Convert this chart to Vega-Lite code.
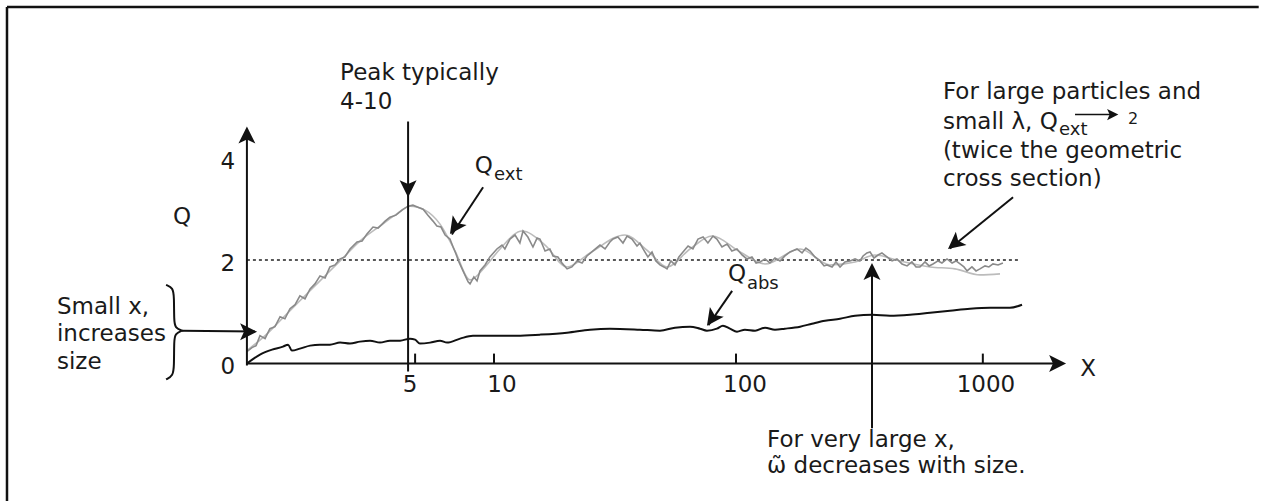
{
  "$schema": "https://vega.github.io/schema/vega-lite/v6.json",
  "width": 1262,
  "height": 503,
  "autosize": {"type": "fit", "contains": "padding"},
  "padding": 0,
  "background": "white",
  "config": {"view": {"stroke": null}, "text": {"font": "DejaVu Sans", "color": "#1a1a1a", "baseline": "middle"}},
  "datasets": {
    "qext": [
      {"x":-0.021,"q":0.231},{"x":0,"q":0.308},{"x":0.017,"q":0.346},{"x":0.033,"q":0.538},{"x":0.054,"q":0.481},{"x":0.074,"q":0.673},{"x":0.095,"q":0.712},{"x":0.116,"q":0.904},{"x":0.136,"q":0.865},{"x":0.157,"q":1.058},{"x":0.178,"q":1.135},{"x":0.198,"q":1.308},{"x":0.219,"q":1.25},{"x":0.24,"q":1.442},{"x":0.26,"q":1.538},{"x":0.281,"q":1.692},{"x":0.302,"q":1.654},{"x":0.322,"q":1.865},{"x":0.343,"q":1.904},{"x":0.364,"q":2.019},{"x":0.384,"q":2.058},{"x":0.405,"q":2.212},{"x":0.434,"q":2.346},{"x":0.455,"q":2.365},{"x":0.475,"q":2.5},{"x":0.5,"q":2.635},{"x":0.521,"q":2.615},{"x":0.55,"q":2.75},{"x":0.57,"q":2.827},{"x":0.595,"q":2.865},{"x":0.62,"q":2.962},{"x":0.645,"q":3.038},{"x":0.665,"q":3.058},{"x":0.686,"q":3.019},{"x":0.707,"q":2.981},{"x":0.727,"q":2.865},{"x":0.748,"q":2.75},{"x":0.764,"q":2.654},{"x":0.781,"q":2.635},{"x":0.798,"q":2.481},{"x":0.818,"q":2.404},{"x":0.831,"q":2.25},{"x":0.843,"q":2.115},{"x":0.855,"q":1.962},{"x":0.872,"q":1.788},{"x":0.893,"q":1.577},{"x":0.901,"q":1.538},{"x":0.917,"q":1.673},{"x":0.93,"q":1.596},{"x":0.942,"q":1.788},{"x":0.963,"q":1.904},{"x":0.983,"q":2.058},{"x":1.012,"q":2.212},{"x":1.033,"q":2.288},{"x":1.045,"q":2.212},{"x":1.066,"q":2.404},{"x":1.087,"q":2.481},{"x":1.107,"q":2.327},{"x":1.12,"q":2.558},{"x":1.14,"q":2.442},{"x":1.161,"q":2.25},{"x":1.178,"q":2.423},{"x":1.19,"q":2.404},{"x":1.211,"q":2.173},{"x":1.231,"q":2.212},{"x":1.244,"q":2.077},{"x":1.264,"q":2.058},{"x":1.281,"q":1.942},{"x":1.302,"q":1.827},{"x":1.322,"q":1.865},{"x":1.343,"q":1.981},{"x":1.364,"q":1.942},{"x":1.384,"q":2.077},{"x":1.409,"q":2.173},{"x":1.438,"q":2.288},{"x":1.459,"q":2.212},{"x":1.479,"q":2.346},{"x":1.492,"q":2.404},{"x":1.512,"q":2.442},{"x":1.533,"q":2.327},{"x":1.55,"q":2.462},{"x":1.57,"q":2.404},{"x":1.591,"q":2.269},{"x":1.603,"q":2.327},{"x":1.616,"q":2.212},{"x":1.636,"q":2.058},{"x":1.653,"q":2.154},{"x":1.669,"q":1.981},{"x":1.686,"q":1.904},{"x":1.702,"q":1.865},{"x":1.715,"q":1.827},{"x":1.731,"q":1.981},{"x":1.748,"q":1.904},{"x":1.764,"q":2.058},{"x":1.781,"q":2.154},{"x":1.802,"q":2.269},{"x":1.822,"q":2.212},{"x":1.843,"q":2.404},{"x":1.864,"q":2.442},{"x":1.884,"q":2.327},{"x":1.905,"q":2.462},{"x":1.921,"q":2.404},{"x":1.942,"q":2.25},{"x":1.963,"q":2.308},{"x":1.983,"q":2.173},{"x":2.004,"q":2.212},{"x":2.025,"q":2.096},{"x":2.045,"q":2.019},{"x":2.066,"q":2.058},{"x":2.083,"q":1.942},{"x":2.099,"q":1.962},{"x":2.12,"q":2.019},{"x":2.14,"q":1.942},{"x":2.161,"q":2.038},{"x":2.182,"q":1.981},{"x":2.202,"q":2.077},{"x":2.223,"q":2.154},{"x":2.252,"q":2.212},{"x":2.273,"q":2.135},{"x":2.289,"q":2.231},{"x":2.306,"q":2.173},{"x":2.326,"q":2.058},{"x":2.347,"q":1.981},{"x":2.364,"q":1.885},{"x":2.376,"q":1.904},{"x":2.397,"q":1.865},{"x":2.413,"q":1.962},{"x":2.43,"q":1.865},{"x":2.45,"q":1.962},{"x":2.471,"q":1.981},{"x":2.492,"q":2.019},{"x":2.512,"q":1.981},{"x":2.525,"q":2.077},{"x":2.541,"q":2.135},{"x":2.554,"q":2.154},{"x":2.57,"q":2.038},{"x":2.587,"q":2.096},{"x":2.603,"q":2.135},{"x":2.624,"q":2.058},{"x":2.645,"q":1.981},{"x":2.665,"q":2.019},{"x":2.686,"q":1.923},{"x":2.707,"q":1.885},{"x":2.727,"q":1.962},{"x":2.744,"q":1.865},{"x":2.76,"q":1.865},{"x":2.781,"q":1.962},{"x":2.798,"q":1.885},{"x":2.814,"q":1.923},{"x":2.835,"q":1.981},{"x":2.851,"q":1.942},{"x":2.872,"q":2.019},{"x":2.893,"q":1.942},{"x":2.909,"q":1.981},{"x":2.926,"q":1.923},{"x":2.942,"q":1.865},{"x":2.955,"q":1.788},{"x":2.975,"q":1.865},{"x":2.992,"q":1.788},{"x":3.008,"q":1.827},{"x":3.029,"q":1.885},{"x":3.045,"q":1.865},{"x":3.062,"q":1.923},{"x":3.083,"q":1.904},{"x":3.103,"q":1.942}
    ],
    "qextSmooth": [
      {"x":-0.021,"q":0.25},{"x":0.054,"q":0.538},{"x":0.116,"q":0.827},{"x":0.198,"q":1.212},{"x":0.281,"q":1.596},{"x":0.364,"q":1.981},{"x":0.446,"q":2.365},{"x":0.529,"q":2.654},{"x":0.591,"q":2.865},{"x":0.653,"q":3.038},{"x":0.715,"q":2.962},{"x":0.777,"q":2.692},{"x":0.839,"q":2.173},{"x":0.901,"q":1.615},{"x":0.963,"q":1.865},{"x":1.025,"q":2.212},{"x":1.116,"q":2.558},{"x":1.211,"q":2.288},{"x":1.302,"q":1.865},{"x":1.397,"q":2.135},{"x":1.541,"q":2.481},{"x":1.636,"q":2.173},{"x":1.715,"q":1.865},{"x":1.81,"q":2.212},{"x":1.901,"q":2.462},{"x":2.017,"q":2.154},{"x":2.12,"q":1.923},{"x":2.265,"q":2.212},{"x":2.388,"q":1.904},{"x":2.492,"q":1.962},{"x":2.574,"q":2.096},{"x":2.678,"q":1.981},{"x":2.802,"q":1.865},{"x":2.905,"q":1.827},{"x":3.008,"q":1.712},{"x":3.091,"q":1.731}
    ],
    "qabs": [
      {"x":-0.021,"q":0},{"x":0.033,"q":0.173},{"x":0.083,"q":0.269},{"x":0.128,"q":0.327},{"x":0.149,"q":0.365},{"x":0.165,"q":0.25},{"x":0.198,"q":0.288},{"x":0.24,"q":0.346},{"x":0.281,"q":0.365},{"x":0.322,"q":0.365},{"x":0.364,"q":0.404},{"x":0.405,"q":0.385},{"x":0.446,"q":0.423},{"x":0.488,"q":0.442},{"x":0.529,"q":0.404},{"x":0.57,"q":0.442},{"x":0.612,"q":0.442},{"x":0.653,"q":0.481},{"x":0.674,"q":0.462},{"x":0.694,"q":0.385},{"x":0.736,"q":0.404},{"x":0.777,"q":0.442},{"x":0.806,"q":0.404},{"x":0.86,"q":0.481},{"x":0.913,"q":0.538},{"x":0.983,"q":0.538},{"x":1.095,"q":0.538},{"x":1.19,"q":0.558},{"x":1.302,"q":0.596},{"x":1.397,"q":0.654},{"x":1.479,"q":0.673},{"x":1.603,"q":0.654},{"x":1.686,"q":0.635},{"x":1.748,"q":0.692},{"x":1.81,"q":0.712},{"x":1.851,"q":0.673},{"x":1.88,"q":0.635},{"x":1.921,"q":0.673},{"x":1.946,"q":0.731},{"x":1.975,"q":0.673},{"x":2.004,"q":0.615},{"x":2.037,"q":0.654},{"x":2.079,"q":0.635},{"x":2.12,"q":0.692},{"x":2.161,"q":0.654},{"x":2.202,"q":0.673},{"x":2.265,"q":0.712},{"x":2.314,"q":0.769},{"x":2.368,"q":0.827},{"x":2.43,"q":0.865},{"x":2.492,"q":0.923},{"x":2.562,"q":0.942},{"x":2.636,"q":0.923},{"x":2.719,"q":0.942},{"x":2.802,"q":0.981},{"x":2.884,"q":1.019},{"x":2.967,"q":1.058},{"x":3.05,"q":1.077},{"x":3.132,"q":1.077},{"x":3.182,"q":1.135}
    ],
    "brace": [
      {"i":1,"x":-0.355,"q":1.519},{"i":2,"x":-0.326,"q":1.462},{"i":3,"x":-0.322,"q":1.288},{"i":4,"x":-0.322,"q":0.827},{"i":5,"x":-0.318,"q":0.692},{"i":6,"x":-0.289,"q":0.635},{"i":7,"x":-0.289,"q":0.635},{"i":8,"x":-0.289,"q":0.635},{"i":9,"x":-0.318,"q":0.577},{"i":10,"x":-0.322,"q":0.442},{"i":11,"x":-0.322,"q":-0.058},{"i":12,"x":-0.326,"q":-0.231},{"i":13,"x":-0.355,"q":-0.308}
    ],
    "segs": [
      {"kind":"frame","x":-1.0124,"q":6.885,"x2":4.16,"q2":6.885},
      {"kind":"frame","x":-1.0124,"q":6.885,"x2":-1.0124,"q2":-2.654},
      {"kind":"line","x":-0.021,"q":-0.038,"x2":-0.021,"q2":4.519},
      {"kind":"line","x":-0.021,"q":0,"x2":3.339,"q2":0},
      {"kind":"line","x":0.645,"q":4.673,"x2":0.645,"q2":-0.154},
      {"kind":"line","x":2.562,"q":-1.25,"x2":2.562,"q2":1.9},
      {"kind":"line","x":0.955,"q":3.404,"x2":0.826,"q2":2.49},
      {"kind":"line","x":1.984,"q":1.404,"x2":1.886,"q2":0.74},
      {"kind":"line","x":3.145,"q":3.212,"x2":2.884,"q2":2.22},
      {"kind":"line","x":-0.289,"q":0.635,"x2":0.012,"q2":0.617},
      {"kind":"thin","x":3.401,"q":4.808,"x2":3.555,"q2":4.808},
      {"kind":"tick","x":0.674,"q":0,"x2":0.674,"q2":0.192},
      {"kind":"tick","x":1.0,"q":0,"x2":1.0,"q2":0.192},
      {"kind":"tick","x":2.0,"q":0,"x2":2.0,"q2":0.192},
      {"kind":"tick","x":3.02,"q":0,"x2":3.02,"q2":0.192},
      {"kind":"dots","x":-0.021,"q":2,"x2":3.174,"q2":2}
    ],
    "heads": [
      {"kind":"big","x":-0.021,"q":4.577,"dir":0},
      {"kind":"big","x":3.364,"q":0,"dir":90},
      {"kind":"big","x":0.645,"q":3.212,"dir":180},
      {"kind":"big","x":0.818,"q":2.5,"dir":215},
      {"kind":"big","x":1.88,"q":0.731,"dir":215.5},
      {"kind":"big","x":2.876,"q":2.212,"dir":231},
      {"kind":"big","x":2.562,"q":1.942,"dir":0},
      {"kind":"big","x":0.021,"q":0.615,"dir":90},
      {"kind":"small","x":3.58,"q":4.808,"dir":90}
    ],
    "texts": [
      {"role":"main","x":0.364,"q":5.615,"t":"Peak typically"},
      {"role":"main","x":0.364,"q":5.058,"t":"4-10"},
      {"role":"main","x":-0.806,"q":1.096,"t":"Small x,"},
      {"role":"main","x":-0.806,"q":0.577,"t":"increases"},
      {"role":"main","x":-0.806,"q":0.038,"t":"size"},
      {"role":"main","x":0.921,"q":3.808,"t":"Q"},
      {"role":"main","x":1.967,"q":1.731,"t":"Q"},
      {"role":"main","x":2.855,"q":5.25,"t":"For large particles and"},
      {"role":"main","x":2.855,"q":4.673,"t":"small λ, Q"},
      {"role":"main","x":2.855,"q":4.096,"t":"(twice the geometric"},
      {"role":"main","x":2.855,"q":3.558,"t":"cross section)"},
      {"role":"main","x":2.128,"q":-1.481,"t":"For very large x,"},
      {"role":"main","x":2.128,"q":-1.981,"t":"ω̃ decreases with size."},
      {"role":"right","x":-0.07,"q":3.885,"t":"4"},
      {"role":"right","x":-0.07,"q":1.923,"t":"2"},
      {"role":"right","x":-0.07,"q":-0.058,"t":"0"},
      {"role":"center","x":-0.289,"q":2.827,"t":"Q"},
      {"role":"center","x":3.455,"q":-0.096,"t":"X"},
      {"role":"center","x":0.653,"q":-0.423,"t":"5"},
      {"role":"center","x":1.033,"q":-0.423,"t":"10"},
      {"role":"center","x":2.037,"q":-0.423,"t":"100"},
      {"role":"center","x":3.033,"q":-0.423,"t":"1000"},
      {"role":"sub","x":1.0,"q":3.635,"t":"ext"},
      {"role":"sub","x":2.045,"q":1.538,"t":"abs"},
      {"role":"sub","x":3.335,"q":4.5,"t":"ext"},
      {"role":"small","x":3.62,"q":4.712,"t":"2"}
    ]
  },
  "encoding": {
    "x": {"field": "x", "type": "quantitative", "scale": {"domain": [-1.0413, 4.1736], "nice": false, "zero": false}, "axis": null},
    "y": {"field": "q", "type": "quantitative", "scale": {"domain": [-2.654, 7.019], "nice": false, "zero": false}, "axis": null}
  },
  "layer": [
    {"data": {"name": "segs"}, "transform": [{"filter": "datum.kind === 'frame'"}], "mark": {"type": "rule", "color": "#111", "strokeWidth": 2.5}, "encoding": {"x2": {"field": "x2"}, "y2": {"field": "q2"}}},
    {"data": {"name": "segs"}, "transform": [{"filter": "datum.kind === 'dots'"}], "mark": {"type": "rule", "color": "#222", "strokeWidth": 1.6, "strokeDash": [3, 3]}, "encoding": {"x2": {"field": "x2"}, "y2": {"field": "q2"}}},
    {"data": {"name": "qextSmooth"}, "mark": {"type": "line", "color": "#bcbcbc", "strokeWidth": 1.6, "interpolate": "monotone"}, "encoding": {}},
    {"data": {"name": "qext"}, "mark": {"type": "line", "color": "#8a8a8a", "strokeWidth": 1.6}, "encoding": {}},
    {"data": {"name": "qabs"}, "mark": {"type": "line", "color": "#111", "strokeWidth": 2, "interpolate": "monotone"}, "encoding": {}},
    {"data": {"name": "segs"}, "transform": [{"filter": "datum.kind === 'line' || datum.kind === 'tick'"}], "mark": {"type": "rule", "color": "#111", "strokeWidth": 2}, "encoding": {"x2": {"field": "x2"}, "y2": {"field": "q2"}}},
    {"data": {"name": "segs"}, "transform": [{"filter": "datum.kind === 'thin'"}], "mark": {"type": "rule", "color": "#111", "strokeWidth": 1.5}, "encoding": {"x2": {"field": "x2"}, "y2": {"field": "q2"}}},
    {"data": {"name": "brace"}, "mark": {"type": "line", "color": "#111", "strokeWidth": 2, "interpolate": "basis"}, "encoding": {"order": {"field": "i", "type": "quantitative"}}},
    {"data": {"name": "heads"}, "transform": [{"filter": "datum.kind === 'big'"}], "mark": {"type": "point", "shape": "M0,0L0.55,1.1L0,0.85L-0.55,1.1Z", "filled": true, "color": "#111", "opacity": 1, "size": 950, "strokeWidth": 0}, "encoding": {"angle": {"field": "dir", "type": "quantitative", "scale": null}}},
    {"data": {"name": "heads"}, "transform": [{"filter": "datum.kind === 'small'"}], "mark": {"type": "point", "shape": "M0,0L0.55,1.1L0,0.85L-0.55,1.1Z", "filled": true, "color": "#111", "opacity": 1, "size": 420, "strokeWidth": 0}, "encoding": {"angle": {"field": "dir", "type": "quantitative", "scale": null}}},
    {"data": {"name": "texts"}, "transform": [{"filter": "datum.role === 'main'"}], "mark": {"type": "text", "fontSize": 23, "align": "left"}, "encoding": {"text": {"field": "t"}}},
    {"data": {"name": "texts"}, "transform": [{"filter": "datum.role === 'right'"}], "mark": {"type": "text", "fontSize": 23, "align": "right"}, "encoding": {"text": {"field": "t"}}},
    {"data": {"name": "texts"}, "transform": [{"filter": "datum.role === 'center'"}], "mark": {"type": "text", "fontSize": 23, "align": "center"}, "encoding": {"text": {"field": "t"}}},
    {"data": {"name": "texts"}, "transform": [{"filter": "datum.role === 'sub'"}], "mark": {"type": "text", "fontSize": 18, "align": "left"}, "encoding": {"text": {"field": "t"}}},
    {"data": {"name": "texts"}, "transform": [{"filter": "datum.role === 'small'"}], "mark": {"type": "text", "fontSize": 16, "align": "left"}, "encoding": {"text": {"field": "t"}}}
  ]
}
